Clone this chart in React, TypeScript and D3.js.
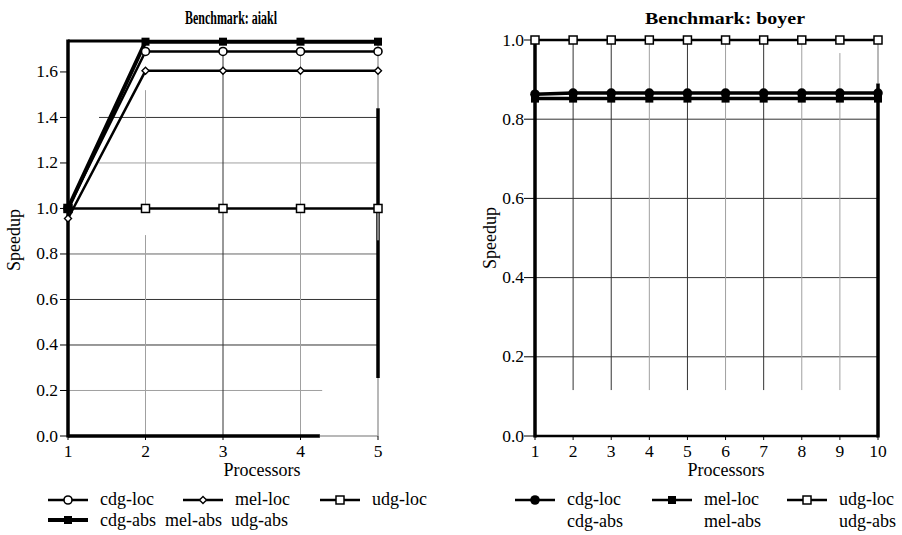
import React from "react";
import * as d3 from "d3";

// ---------- data ----------
const procLeft = [1, 2, 3, 4, 5];
const cdgLocLeft = [1.0, 1.69, 1.69, 1.69, 1.69];
const melLocLeft = [0.956, 1.605, 1.605, 1.605, 1.605];
const udgLocLeft = [1.0, 1.0, 1.0, 1.0, 1.0];
const cdgAbsLeft = [1.0, 1.733, 1.733, 1.733, 1.733];
const yTicksLeft = [0, 0.2, 0.4, 0.6, 0.8, 1.0, 1.2, 1.4, 1.6];

const procRight = [1, 2, 3, 4, 5, 6, 7, 8, 9, 10];
const cdgLocRight = [0.863, 0.866, 0.866, 0.866, 0.866, 0.866, 0.866, 0.866, 0.866, 0.866];
const melLocRight = [0.852, 0.852, 0.852, 0.852, 0.852, 0.852, 0.852, 0.852, 0.852, 0.852];
const udgLocRight = [1, 1, 1, 1, 1, 1, 1, 1, 1, 1];
const yTicksRight = [0, 0.2, 0.4, 0.6, 0.8, 1.0];

const titleLeft = "Benchmark: aiakl";
const titleRight = "Benchmark: boyer";
const legendLeftRow1 = ["cdg-loc", "mel-loc", "udg-loc"];
const legendLeftRow2 = "cdg-abs  mel-abs  udg-abs";
const legendRightTop = ["cdg-loc", "mel-loc", "udg-loc"];
const legendRightBottom = ["cdg-abs", "mel-abs", "udg-abs"];

const DARK = "#333";
const GRAY = "#a0a0a0";

// ---------- scales ----------
const xL = d3.scaleLinear().domain([1, 5]).range([68, 378]);
const yL = d3.scaleLinear().domain([0, 1.736]).range([436, 41]);
const xR = d3.scaleLinear().domain([1, 10]).range([535, 878]);
const yR = d3.scaleLinear().domain([0, 1]).range([436, 40]);

function pathOf(xs: number[], ys: number[], sx: any, sy: any) {
  const line = d3.line<number>().x((_, i) => sx(xs[i])).y((d) => sy(d));
  return line(ys) || "";
}

const T = ({ children, bold, style, ...rest }: any) => (
  <text
    {...rest}
    style={{ fontFamily: '"Liberation Serif"', fontWeight: bold ? "bold" : "normal", whiteSpace: "pre", ...(style || {}) }}
  >
    {children}
  </text>
);

const OpenCircle = ({ x, y, r = 4 }: any) => (
  <circle cx={x} cy={y} r={r} fill="#fff" stroke="#000" strokeWidth={1.6} />
);
const FilledCircle = ({ x, y, r = 4.8 }: any) => <circle cx={x} cy={y} r={r} fill="#000" />;
const OpenSquare = ({ x, y, s = 8 }: any) => (
  <rect x={x - s / 2} y={y - s / 2} width={s} height={s} fill="#fff" stroke="#000" strokeWidth={1.5} />
);
const FilledSquare = ({ x, y, s = 8 }: any) => (
  <rect x={x - s / 2} y={y - s / 2} width={s} height={s} fill="#000" />
);
const Diamond = ({ x, y, s = 3.5 }: any) => (
  <path
    d={`M${x},${y - s}L${x + s},${y}L${x},${y + s}L${x - s},${y}Z`}
    fill="#fff"
    stroke="#000"
    strokeWidth={1.4}
  />
);

export default function App() {
  return (
    <svg width={902} height={535} style={{ position: "absolute", left: 0, top: 0, background: "#fff" }}>
      <rect x={0} y={0} width={902} height={535} fill="#fff" />

      {/* ================= LEFT CHART ================= */}
      <g>
        {/* grid */}
        <line x1={xL(1)} x2={xL(4.28)} y1={yL(0.2)} y2={yL(0.2)} stroke={GRAY} strokeWidth={1} />
        {[0.4, 0.6].map((v) => (
          <line key={v} x1={xL(1)} x2={xL(5)} y1={yL(v)} y2={yL(v)} stroke={DARK} strokeWidth={1} />
        ))}
        <line x1={xL(1)} x2={xL(5)} y1={yL(0.8)} y2={yL(0.8)} stroke="#666" strokeWidth={1} />
        <line x1={xL(1.4)} x2={xL(5)} y1={yL(1.2)} y2={yL(1.2)} stroke={GRAY} strokeWidth={1} />
        <line x1={xL(1.4)} x2={xL(5)} y1={yL(1.4)} y2={yL(1.4)} stroke={DARK} strokeWidth={1} />
        <line x1={xL(2)} x2={xL(2)} y1={yL(1.52)} y2={yL(1.0)} stroke={GRAY} strokeWidth={1} />
        <line x1={xL(2)} x2={xL(2)} y1={yL(0.883)} y2={yL(0)} stroke={GRAY} strokeWidth={1} />
        <line x1={xL(3)} x2={xL(3)} y1={yL(1.69)} y2={yL(0)} stroke={DARK} strokeWidth={1} />
        <line x1={xL(4)} x2={xL(4)} y1={yL(1.69)} y2={yL(0)} stroke={GRAY} strokeWidth={1} />

        {/* frame */}
        <line x1={xL(1)} x2={xL(2)} y1={yL(1.736)} y2={yL(1.736)} stroke="#000" strokeWidth={3} />
        <line x1={xL(1)} x2={xL(1)} y1={yL(1.736) - 1.5} y2={yL(0) + 1.5} stroke="#000" strokeWidth={3.5} />
        <line x1={xL(1)} x2={xL(4.25)} y1={yL(0)} y2={yL(0)} stroke="#000" strokeWidth={3.5} />
        <line x1={xL(4.25)} x2={xL(5)} y1={yL(0)} y2={yL(0)} stroke={GRAY} strokeWidth={1.5} />
        <line x1={xL(5)} x2={xL(5)} y1={yL(1.736)} y2={yL(1.44)} stroke={GRAY} strokeWidth={1.5} />
        <line x1={xL(5)} x2={xL(5)} y1={yL(1.44)} y2={yL(0.255)} stroke="#000" strokeWidth={3.5} />
        <line x1={xL(5)} x2={xL(5)} y1={yL(1.0)} y2={yL(0.86)} stroke="#fff" strokeWidth={1} />
        <line x1={xL(5)} x2={xL(5)} y1={yL(0.255)} y2={yL(0)} stroke={GRAY} strokeWidth={1.5} />

        {/* ticks */}
        {yTicksLeft.map((v) => (
          <g key={v}>
            <line x1={xL(1) - 8} x2={xL(1)} y1={yL(v)} y2={yL(v)} stroke="#000" strokeWidth={1} />
            <T x={xL(1) - 10} y={yL(v) + 5.5} fontSize={17.5} textAnchor="end">
              {v.toFixed(1)}
            </T>
          </g>
        ))}
        {procLeft.map((p) => (
          <g key={p}>
            <line x1={xL(p)} x2={xL(p)} y1={yL(0)} y2={yL(0) + 4} stroke="#000" strokeWidth={1} />
            <T x={xL(p)} y={457} fontSize={17.5} textAnchor="middle">
              {String(p)}
            </T>
          </g>
        ))}

        {/* series lines */}
        <path d={pathOf(procLeft, udgLocLeft, xL, yL)} fill="none" stroke="#000" strokeWidth={2.5} />
        <path d={pathOf(procLeft, melLocLeft, xL, yL)} fill="none" stroke="#000" strokeWidth={2.5} />
        <path d={pathOf(procLeft, cdgLocLeft, xL, yL)} fill="none" stroke="#000" strokeWidth={2.5} />
        <path d={pathOf(procLeft, cdgAbsLeft, xL, yL)} fill="none" stroke="#000" strokeWidth={4} />

        {/* markers */}
        {procLeft.map((p, i) => (
          <OpenSquare key={"u" + p} x={xL(p)} y={yL(udgLocLeft[i])} />
        ))}
        {procLeft.map((p, i) => (
          <Diamond key={"m" + p} x={xL(p)} y={yL(melLocLeft[i])} />
        ))}
        {procLeft.map((p, i) => (
          <OpenCircle key={"c" + p} x={xL(p)} y={yL(cdgLocLeft[i])} />
        ))}
        {procLeft.map((p, i) => (
          <FilledSquare key={"a" + p} x={xL(p)} y={yL(cdgAbsLeft[i])} />
        ))}

        {/* title / labels */}
        <T x={231} y={24} fontSize={18} bold textAnchor="middle" textLength={92} lengthAdjust="spacingAndGlyphs">
          {titleLeft}
        </T>
        <T x={262} y={476} fontSize={18} textAnchor="middle">
          Processors
        </T>
        <T transform="translate(20,240) rotate(-90)" fontSize={18} textAnchor="middle">
          Speedup
        </T>

        {/* legend */}
        {legendLeftRow1.map((name, i) => {
          const lx = [48, 183, 320][i];
          const cx = lx + 20;
          return (
            <g key={name}>
              <line x1={lx} x2={lx + 40} y1={500} y2={500} stroke="#000" strokeWidth={2.5} />
              {i === 0 && <OpenCircle x={cx} y={500} />}
              {i === 1 && <Diamond x={cx} y={500} />}
              {i === 2 && <OpenSquare x={cx} y={500} />}
              <T x={lx + 52} y={505} fontSize={18}>
                {name}
              </T>
            </g>
          );
        })}
        <line x1={48} x2={88} y1={520} y2={520} stroke="#000" strokeWidth={4} />
        <FilledSquare x={68} y={520} />
        <T x={100} y={526} fontSize={18}>
          {legendLeftRow2}
        </T>
      </g>

      {/* ================= RIGHT CHART ================= */}
      <g>
        {/* grid */}
        {[0.2, 0.4, 0.6, 0.8].map((v) => (
          <line key={v} x1={xR(1)} x2={xR(10)} y1={yR(v)} y2={yR(v)} stroke={DARK} strokeWidth={1} />
        ))}
        {[2, 3, 4, 5, 6, 7, 8, 9].map((p) => (
          <line
            key={p}
            x1={xR(p)}
            x2={xR(p)}
            y1={p === 9 ? yR(0.967) : yR(1)}
            y2={yR(0.116)}
            stroke={[4, 6, 8, 9].includes(p) ? GRAY : DARK}
            strokeWidth={1}
          />
        ))}

        {/* frame */}
        <line x1={xR(1)} x2={xR(1)} y1={yR(1)} y2={yR(0) + 1.5} stroke="#000" strokeWidth={3.5} />
        <line x1={xR(1)} x2={xR(10)} y1={yR(0)} y2={yR(0)} stroke="#000" strokeWidth={2.5} />
        <line x1={xR(10)} x2={xR(10)} y1={yR(1)} y2={yR(0.89)} stroke={GRAY} strokeWidth={1.5} />
        <line x1={xR(10)} x2={xR(10)} y1={yR(0.89)} y2={yR(0) + 1.5} stroke="#000" strokeWidth={3.5} />

        {/* ticks */}
        {yTicksRight.map((v) => (
          <g key={v}>
            <line x1={xR(1) - 11} x2={xR(1)} y1={yR(v)} y2={yR(v)} stroke="#000" strokeWidth={1} />
            <T x={xR(1) - 11} y={yR(v) + 5.5} fontSize={17.5} textAnchor="end">
              {v.toFixed(1)}
            </T>
          </g>
        ))}
        {procRight.map((p) => (
          <g key={p}>
            <line x1={xR(p)} x2={xR(p)} y1={yR(0)} y2={yR(0) + 4} stroke="#000" strokeWidth={1} />
            <T x={xR(p)} y={457} fontSize={17.5} textAnchor="middle">
              {String(p)}
            </T>
          </g>
        ))}

        {/* series */}
        <path d={pathOf(procRight, udgLocRight, xR, yR)} fill="none" stroke="#000" strokeWidth={2.5} />
        <path d={pathOf(procRight, melLocRight, xR, yR)} fill="none" stroke="#000" strokeWidth={3.5} />
        <path d={pathOf(procRight, cdgLocRight, xR, yR)} fill="none" stroke="#000" strokeWidth={3.5} />
        {procRight.map((p, i) => (
          <OpenSquare key={"u" + p} x={xR(p)} y={yR(udgLocRight[i])} />
        ))}
        {procRight.map((p, i) => (
          <FilledSquare key={"m" + p} x={xR(p)} y={yR(melLocRight[i])} />
        ))}
        {procRight.map((p, i) => (
          <FilledCircle key={"c" + p} x={xR(p)} y={yR(cdgLocRight[i])} />
        ))}

        {/* title / labels */}
        <T x={725} y={24} fontSize={16.5} bold textAnchor="middle" textLength={160} lengthAdjust="spacingAndGlyphs">
          {titleRight}
        </T>
        <T x={726} y={476} fontSize={18} textAnchor="middle">
          Processors
        </T>
        <T transform="translate(496,238) rotate(-90)" fontSize={18} textAnchor="middle">
          Speedup
        </T>

        {/* legend */}
        {legendRightTop.map((name, i) => {
          const lx = [515, 652, 787][i];
          const cx = lx + 20;
          return (
            <g key={name}>
              <line x1={lx} x2={lx + 40} y1={500} y2={500} stroke="#000" strokeWidth={2.5} />
              {i === 0 && <FilledCircle x={cx} y={500} />}
              {i === 1 && <FilledSquare x={cx} y={500} />}
              {i === 2 && <OpenSquare x={cx} y={500} />}
              <T x={lx + 52} y={505} fontSize={18}>
                {name}
              </T>
              <T x={lx + 52} y={527} fontSize={18}>
                {legendRightBottom[i]}
              </T>
            </g>
          );
        })}
      </g>
    </svg>
  );
}
